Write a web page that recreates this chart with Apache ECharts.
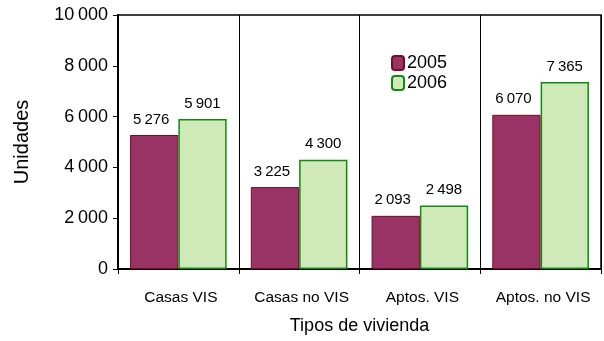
<!DOCTYPE html>
<html>
<head>
<meta charset="utf-8">
<script src="https://cdn.jsdelivr.net/npm/echarts@6/dist/echarts.min.js"></script>
<style>
  html, body { margin: 0; padding: 0; background: #fff; }
  #chart { width: 604px; height: 341px; }
</style>
</head>
<body>
<div id="chart"></div>
<script>
// Viviendas por tipo, 2005 y 2006
const categories = ['Casas VIS', 'Casas no VIS', 'Aptos. VIS', 'Aptos. no VIS'];
const values2005 = [5276, 3225, 2093, 6070];
const values2006 = [5901, 4300, 2498, 7365];
const yTicks = [0, 2000, 4000, 6000, 8000, 10000];

const FONT = '"Liberation Sans", Arial, sans-serif';

// thousands separated with a thin space: 10 000
function fmt(v) {
  return String(v).replace(/\B(?=(\d{3})+(?!\d))/g, '\u2009');
}

const chart = echarts.init(document.getElementById('chart'), null, { renderer: 'canvas' });

chart.setOption({
  animation: false,
  backgroundColor: '#ffffff',
  textStyle: { fontFamily: FONT, color: '#000' },
  grid: {
    left: 118, right: 3, top: 15, bottom: 72,
    show: true, borderColor: '#000', borderWidth: 1.5
  },
  legend: {
    orient: 'vertical',
    left: 386, top: 49,
    itemWidth: 12, itemHeight: 14, itemGap: 2,
    textStyle: { fontFamily: FONT, fontSize: 18, lineHeight: 15, color: '#000', padding: [0, 0, 0, -2] },
    data: ['2005', '2006']
  },
  xAxis: {
    type: 'category',
    data: categories,
    name: 'Tipos de vivienda',
    nameLocation: 'middle',
    nameGap: 48,
    nameTextStyle: { fontFamily: FONT, fontSize: 18, color: '#000' },
    axisLine: { show: true, lineStyle: { color: '#000', width: 2 } },
    axisTick: { show: true, interval: 0, alignWithLabel: false, length: 5, lineStyle: { color: '#000' } },
    axisLabel: {
      interval: 0, hideOverlap: false,
      fontFamily: FONT, fontSize: 15.5, color: '#000', margin: 21,
      padding: [0, 0, 0, 5]
    },
    splitLine: { show: true, interval: 0, lineStyle: { color: '#000', width: 1 } }
  },
  yAxis: {
    type: 'value',
    min: 0, max: 10000, interval: 2000,
    name: 'Unidades',
    nameLocation: 'middle',
    nameGap: 86,
    nameTextStyle: { fontFamily: FONT, fontSize: 20, color: '#000' },
    axisLine: { show: true, lineStyle: { color: '#000', width: 2 } },
    axisTick: { show: true, length: 5, lineStyle: { color: '#000' } },
    axisLabel: {
      fontFamily: FONT, fontSize: 18, color: '#000', margin: 10,
      formatter: function (v) { return yTicks.indexOf(v) >= 0 ? fmt(v) : ''; }
    },
    splitLine: { show: false }
  },
  series: [
    {
      name: '2005',
      type: 'bar',
      data: values2005,
      barGap: '0%',
      barCategoryGap: '20%',
      itemStyle: { color: '#993366', borderColor: '#7a0a1e', borderWidth: 1 },
      label: {
        show: true, position: 'top', distance: 8, offset: [-3, 0],
        fontFamily: FONT, fontSize: 15, color: '#000',
        formatter: function (p) { return fmt(p.value); }
      }
    },
    {
      name: '2006',
      type: 'bar',
      data: values2006,
      itemStyle: { color: '#cfeab8', borderColor: '#108a10', borderWidth: 1.5 },
      label: {
        show: true, position: 'top', distance: 8,
        fontFamily: FONT, fontSize: 15, color: '#000',
        formatter: function (p) { return fmt(p.value); }
      }
    }
  ]
});
</script>
</body>
</html>
